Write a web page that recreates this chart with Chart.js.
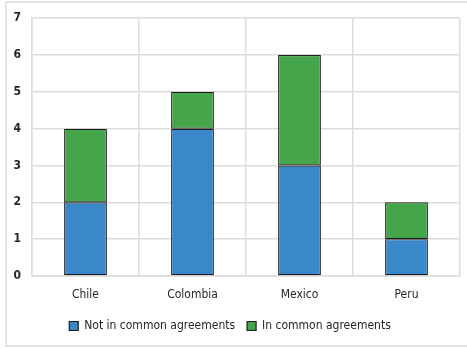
<!DOCTYPE html>
<html>
<head>
<meta charset="utf-8">
<script src="https://cdn.jsdelivr.net/npm/chart.js@4.4.1/dist/chart.umd.min.js"></script>
<style>
  html, body { margin: 0; padding: 0; background: #fff; }
  #wrap { position: relative; width: 467px; height: 349px; overflow: hidden; }
  #frame { position: absolute; left: 5px; top: 1px; width: 480px; height: 346px; border: 2px solid #e3e3e3; box-sizing: border-box; }
  #chart { position: absolute; left: 0; top: 0; }
</style>
</head>
<body>
<div id="wrap">
  <div id="frame"></div>
  <canvas id="chart" width="467" height="349"></canvas>
</div>
<script>
// === data ===
const countries = ["Chile", "Colombia", "Mexico", "Peru"];
const notInCommon = [2, 4, 3, 1];
const inCommon = [2, 1, 3, 1];
const seriesNames = ["Not in common agreements", "In common agreements"];

const FONT = "'Liberation Sans Narrow', 'DejaVu Sans Condensed', 'Roboto', sans-serif";
const TEXT = "#262626";
const GRID = "#dcdcdc";

const ctx = document.getElementById("chart").getContext("2d");

new Chart(ctx, {
    type: "bar",
    data: {
        labels: countries,
        datasets: [
            {
                label: seriesNames[0],
                data: notInCommon,
                backgroundColor: "#3a88c9",
                borderColor: "#1c1c1c",
                borderWidth: 1.2,
                borderSkipped: false
            },
            {
                label: seriesNames[1],
                data: inCommon,
                backgroundColor: "#45a54a",
                borderColor: "#1c1c1c",
                borderWidth: 1.2,
                borderSkipped: false
            }
        ]
    },
    options: {
        responsive: false,
        animation: false,
        barPercentage: 0.5,
        categoryPercentage: 0.8,
        layout: { padding: { left: 0, right: 7, top: 18, bottom: 7 } },
        plugins: {
            tooltip: { enabled: false },
            legend: {
                position: "bottom",
                labels: {
                    boxWidth: 9,
                    boxHeight: 9,
                    padding: 12,
                    color: TEXT,
                    font: { family: FONT, size: 12 }
                }
            }
        },
        scales: {
            x: {
                stacked: true,
                grid: { color: GRID, lineWidth: 1.5, drawTicks: false },
                border: { color: GRID, width: 1.5 },
                ticks: { color: TEXT, padding: 12, font: { family: FONT, size: 12 } },
                afterFit: s => { s.height = 32; }
            },
            y: {
                stacked: true,
                min: 0,
                max: 7,
                grid: { color: GRID, lineWidth: 1.5, drawTicks: false },
                border: { color: GRID, width: 1.5 },
                ticks: { stepSize: 1, color: TEXT, padding: 11, font: { family: FONT, size: 12, weight: "bold" } },
                afterFit: s => { s.width = 32; }
            }
        }
    }
});
</script>
</body>
</html>
